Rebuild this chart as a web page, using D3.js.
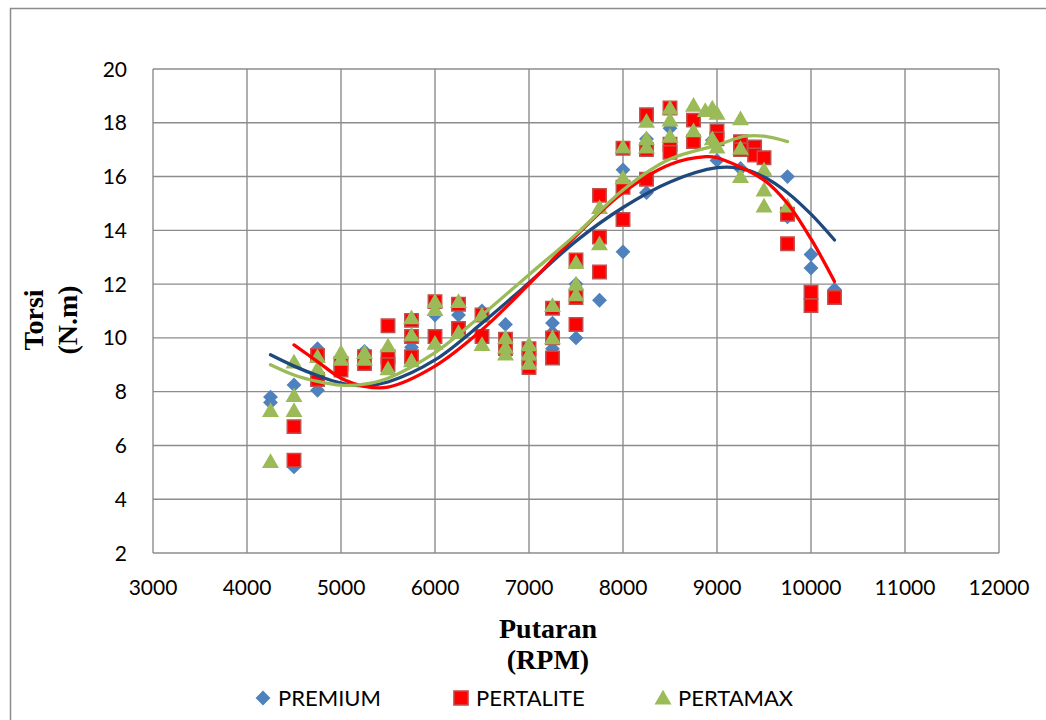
<!DOCTYPE html>
<html>
<head>
<meta charset="utf-8">
<script src="https://cdn.jsdelivr.net/npm/d3@7/dist/d3.min.js"></script>
<style>
  html,body{margin:0;padding:0;background:#fff;}
  svg{display:block;}
</style>
</head>
<body>
<div id="chart"></div>
<script>
// torque readings [rpm, N.m] per fuel
const premium = [
  [4250,7.8],[4250,7.6],[4500,8.25],[4500,5.2],[4750,9.6],[4750,8.05],
  [5000,9.2],[5000,8.9],[5250,9.5],[5500,9.3],[5750,10.1],[5750,9.65],
  [6000,11.2],[6000,10.85],[6250,11.3],[6250,10.85],[6500,11.0],[6500,10.0],
  [6750,10.5],[6750,9.9],[7000,9.4],[7000,9.0],[7250,10.55],[7250,10.2],[7250,9.6],
  [7500,12.0],[7500,10.0],[7750,13.7],[7750,11.4],[8000,16.25],[8000,13.2],
  [8250,17.4],[8250,15.4],[8500,17.8],[8750,17.5],[8950,17.35],[9000,16.6],
  [9250,16.3],[9500,16.1],[9750,16.0],[9750,14.5],[10000,13.1],[10000,12.6],
  [10250,11.8]
];

const pertalite = [
  [4500,6.7],[4500,5.45],[4750,9.35],[4750,8.45],[5000,9.05],[5000,8.8],
  [5250,9.3],[5250,9.05],[5500,10.45],[5500,9.3],[5500,9.0],
  [5750,10.65],[5750,10.05],[5750,9.3],[6000,11.35],[6000,10.05],
  [6250,11.25],[6250,10.35],[6500,10.85],[6500,10.05],[6750,9.95],[6750,9.6],
  [7000,9.6],[7000,9.25],[7000,8.9],[7250,11.1],[7250,10.0],[7250,9.25],
  [7500,12.9],[7500,11.5],[7500,10.5],[7750,15.3],[7750,13.75],[7750,12.45],
  [8000,17.05],[8000,15.6],[8000,14.4],[8250,18.3],[8250,17.0],[8250,15.9],
  [8500,18.55],[8500,17.2],[8500,16.9],[8750,18.1],[8750,17.3],
  [9000,17.7],[9000,17.4],[9250,17.3],[9250,17.0],[9400,17.1],[9400,16.8],
  [9500,16.7],[9750,14.6],[9750,13.5],[10000,11.7],[10000,11.2],[10250,11.5]
];

const pertamax = [
  [4250,7.3],[4250,5.4],[4500,9.1],[4500,7.85],[4500,7.3],[4750,9.3],[4750,8.85],
  [5000,9.45],[5000,9.2],[5250,9.45],[5250,9.2],[5500,9.7],[5500,8.85],
  [5750,10.75],[5750,10.1],[5750,9.15],[6000,11.35],[6000,11.05],[6000,9.8],
  [6250,11.35],[6250,10.2],[6500,10.85],[6500,9.75],
  [6750,10.0],[6750,9.65],[6750,9.4],[7000,9.75],[7000,9.4],[7000,9.05],
  [7250,11.2],[7250,10.0],[7500,12.8],[7500,12.0],[7500,11.6],
  [7750,14.85],[7750,13.5],[8000,17.1],[8000,15.95],
  [8250,18.05],[8250,17.4],[8250,17.1],[8500,18.55],[8500,18.1],[8500,17.5],
  [8750,18.65],[8750,17.7],[8875,18.45],[8950,18.55],[8950,17.4],
  [9000,18.35],[9000,17.1],[9250,18.15],[9250,17.05],[9250,16.0],
  [9500,16.25],[9500,15.5],[9500,14.9],[9750,14.9]
];

// polynomial trendlines
const premiumTrend = [
  [4250,9.37],[4500,8.95],[4750,8.6],[5000,8.32],[5250,8.22],[5500,8.36],
  [6000,9.18],[6500,10.55],[7000,12.05],[7500,13.6],[8000,14.85],[8500,15.8],
  [9000,16.33],[9250,16.3],[9500,15.98],[9750,15.4],[10000,14.6],[10250,13.64]
];
const pertaliteTrend = [
  [4500,9.74],[4750,9.12],[5000,8.5],[5250,8.2],[5500,8.17],[6000,8.95],
  [6500,10.3],[7000,12.0],[7500,13.8],[8000,15.4],[8500,16.45],[8880,16.74],
  [9000,16.7],[9500,15.87],[9750,15.0],[10000,13.68],[10250,12.1]
];
const pertamaxTrend = [
  [4250,9.0],[4500,8.62],[4750,8.38],[5000,8.24],[5250,8.28],[5500,8.5],
  [6000,9.45],[6500,10.85],[7000,12.35],[7500,13.85],[8000,15.5],[8500,16.65],
  [9000,17.17],[9300,17.5],[9500,17.5],[9750,17.3]
];

const xTicks = [3000,4000,5000,6000,7000,8000,9000,10000,11000,12000];
const yTicks = [2,4,6,8,10,12,14,16,18,20];
const seriesNames = ["PREMIUM","PERTALITE","PERTAMAX"];

const W = 1046, H = 720;
const plotL = 153, plotR = 999, plotT = 69, plotB = 553;

const svg = d3.select("#chart").append("svg")
  .attr("width",W).attr("height",H);

svg.append("rect").attr("width",W).attr("height",H).attr("fill","#fff");

// outer chart frame (clipped on the right and bottom)
svg.append("path")
  .attr("d",`M10.5,${H} V8.5 H${W}`)
  .attr("fill","none").attr("stroke","#8c8c8c").attr("stroke-width",1.5);

const x = d3.scaleLinear().domain([3000,12000]).range([plotL,plotR]);
const y = d3.scaleLinear().domain([2,20]).range([plotB,plotT]);

const grid = svg.append("g").attr("stroke","#8c8c8c").attr("stroke-width",1.4);
yTicks.forEach(t => {
  grid.append("line").attr("x1",plotL).attr("x2",plotR)
    .attr("y1",y(t)).attr("y2",y(t));
});
xTicks.forEach(t => {
  grid.append("line").attr("x1",x(t)).attr("x2",x(t))
    .attr("y1",plotT).attr("y2",plotB);
});

const tickFont = "Lato, 'Open Sans', sans-serif";

svg.append("g").selectAll("text").data(yTicks).join("text")
  .attr("x",127).attr("y",d => y(d)).attr("dy","0.36em")
  .attr("text-anchor","end")
  .style("font-family",tickFont).style("font-size","21px").attr("fill","#000")
  .text(d => d);

svg.append("g").selectAll("text").data(xTicks).join("text")
  .attr("x",d => x(d)).attr("y",595)
  .attr("text-anchor","middle")
  .style("font-family",tickFont).style("font-size","21px").attr("fill","#000")
  .text(d => d);

// axis titles
const titleFont = "'Liberation Serif', 'Times New Roman', serif";
const xt = svg.append("text").attr("text-anchor","middle")
  .style("font-family",titleFont).style("font-size","28px").style("font-weight","bold");
xt.append("tspan").attr("x",548).attr("y",638).text("Putaran");
xt.append("tspan").attr("x",548).attr("y",669).text("(RPM)");

const yt = svg.append("text").attr("text-anchor","middle")
  .attr("transform","translate(43,320) rotate(-90)")
  .style("font-family",titleFont).style("font-size","28px").style("font-weight","bold");
yt.append("tspan").attr("x",0).attr("y",0).text("Torsi");
yt.append("tspan").attr("x",0).attr("y",34).text("(N.m)");

// markers
const diamond = d3.symbol().type(d3.symbolSquare).size(110);
const square = d3.symbol().type(d3.symbolSquare).size(180);
const triangle = d3.symbol().type(d3.symbolTriangle).size(125);

svg.append("g").selectAll("path").data(premium).join("path")
  .attr("d",diamond)
  .attr("transform",d => `translate(${x(d[0])},${y(d[1])}) rotate(45)`)
  .attr("fill","#4f81bd");

svg.append("g").selectAll("path").data(pertalite).join("path")
  .attr("d",square)
  .attr("transform",d => `translate(${x(d[0])},${y(d[1])})`)
  .attr("fill","#ff0000").attr("stroke","#c0504d").attr("stroke-width",1.5);

svg.append("g").selectAll("path").data(pertamax).join("path")
  .attr("d",triangle)
  .attr("transform",d => `translate(${x(d[0])},${y(d[1])+1.5})`)
  .attr("fill","#9bbb59");

// trendlines
const line = d3.line()
  .x(d => x(d[0])).y(d => y(d[1]))
  .curve(d3.curveCatmullRom.alpha(0.5));

[[premiumTrend,"#1f497d"],[pertaliteTrend,"#ff0000"],[pertamaxTrend,"#9bbb59"]]
  .forEach(([pts,col]) => {
    svg.append("path").datum(pts).attr("d",line)
      .attr("fill","none").attr("stroke",col)
      .attr("stroke-width",3.3).attr("stroke-linecap","round");
  });

// legend
const legend = svg.append("g");
const legendX = [263,461,663];
legend.append("path").attr("d",diamond)
  .attr("transform",`translate(${legendX[0]},698) rotate(45)`).attr("fill","#4f81bd");
legend.append("path").attr("d",d3.symbol().type(d3.symbolSquare).size(200))
  .attr("transform",`translate(${legendX[1]},698)`)
  .attr("fill","#ff0000").attr("stroke","#c0504d").attr("stroke-width",1.5);
legend.append("path").attr("d",triangle)
  .attr("transform",`translate(${legendX[2]},699.5)`).attr("fill","#9bbb59");

legend.selectAll("text").data(seriesNames).join("text")
  .attr("x",(d,i) => legendX[i] + 15).attr("y",706)
  .style("font-family",tickFont).style("font-size","22px").attr("fill","#000")
  .text(d => d);
</script>
</body>
</html>
